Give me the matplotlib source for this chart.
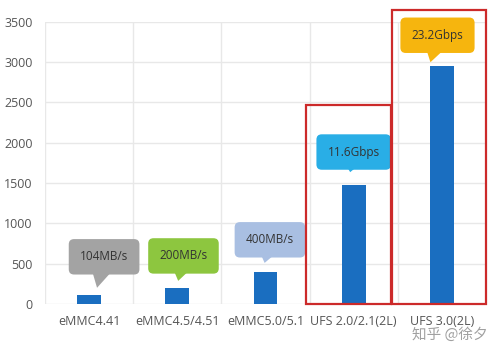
import matplotlib.pyplot as plt
from matplotlib.patches import Rectangle

# eMMC / UFS sequential read speed, MB/s
categories = ['eMMC4.41', 'eMMC4.5/4.51', 'eMMC5.0/5.1', 'UFS 2.0/2.1(2L)', 'UFS 3.0(2L)']
speeds = [104, 200, 400, 1475, 2950]
labels = ['104MB/s', '200MB/s', '400MB/s', '11.6Gbps', '23.2Gbps']
label_colors = ['#a3a3a3', '#8dc63f', '#a9bfe2', '#29aee6', '#f6b50e']
yticks = [0, 500, 1000, 1500, 2000, 2500, 3000, 3500]

plt.rcParams['font.family'] = ['Open Sans', 'DejaVu Sans']

fig = plt.figure(figsize=(5, 3.6), dpi=100)
ax = fig.add_axes([0.09, 0.156, 0.882, 0.783])

x = list(range(len(categories)))
ax.bar(x, speeds, width=0.27, color='#1a6ec0', zorder=3)

ax.set_xlim(-0.5, len(categories) - 0.5)
ax.set_ylim(0, 3500)
ax.set_yticks(yticks)
ax.set_xticks(x)
ax.set_xticklabels(categories, fontsize=9, color='#555555')
ax.tick_params(axis='y', labelsize=9, labelcolor='#555555', length=0, pad=9)
ax.tick_params(axis='x', length=0, pad=8)

# grid: horizontal at ticks, vertical at category boundaries
for yv in yticks:
    ax.axhline(yv, color='#e8e8e8', lw=1, zorder=0)
for xv in [i - 0.5 for i in range(len(categories) + 1)]:
    ax.axvline(xv, color='#e8e8e8', lw=1, zorder=0)
for s in ax.spines.values():
    s.set_visible(False)

# callout bubbles
text_dx = [0.17, 0.07, 0.05, 0.0, -0.05]
text_dy = [480, 395, 395, 410, 385]
tip_dx = [0.09, 0.01, -0.01, -0.04, -0.13]
tip_dy = [95, 85, 108, 160, 50]
for i, (v, lab, c) in enumerate(zip(speeds, labels, label_colors)):
    ax.annotate(lab, xy=(i + tip_dx[i], v + tip_dy[i]),
                xytext=(i + text_dx[i], v + text_dy[i]),
                ha='center', va='center', fontsize=8.5, color='#333333',
                bbox=dict(boxstyle='round,pad=0.95,rounding_size=0.45', fc=c, ec='none'),
                arrowprops=dict(arrowstyle='wedge,tail_width=3.0', fc=c, ec='none',
                                patchA=None, shrinkA=0, shrinkB=0),
                zorder=5, annotation_clip=False)

# red highlight boxes around UFS columns
ax.add_patch(Rectangle((2.455, 0), 0.965, 2466, fill=False, ec='#cc2a2a', lw=1.6,
                       zorder=6, clip_on=False))
ax.add_patch(Rectangle((3.43, 0), 1.065, 3643, fill=False, ec='#cc2a2a', lw=1.6,
                       zorder=6, clip_on=False))

fig.text(0.9, 0.07, '知乎 @徐夕', ha='center', va='center', fontsize=10.5,
         color='#a0a0a0', family=['Noto Sans CJK SC', 'DejaVu Sans'])

fig.savefig('out.png', dpi=100)
